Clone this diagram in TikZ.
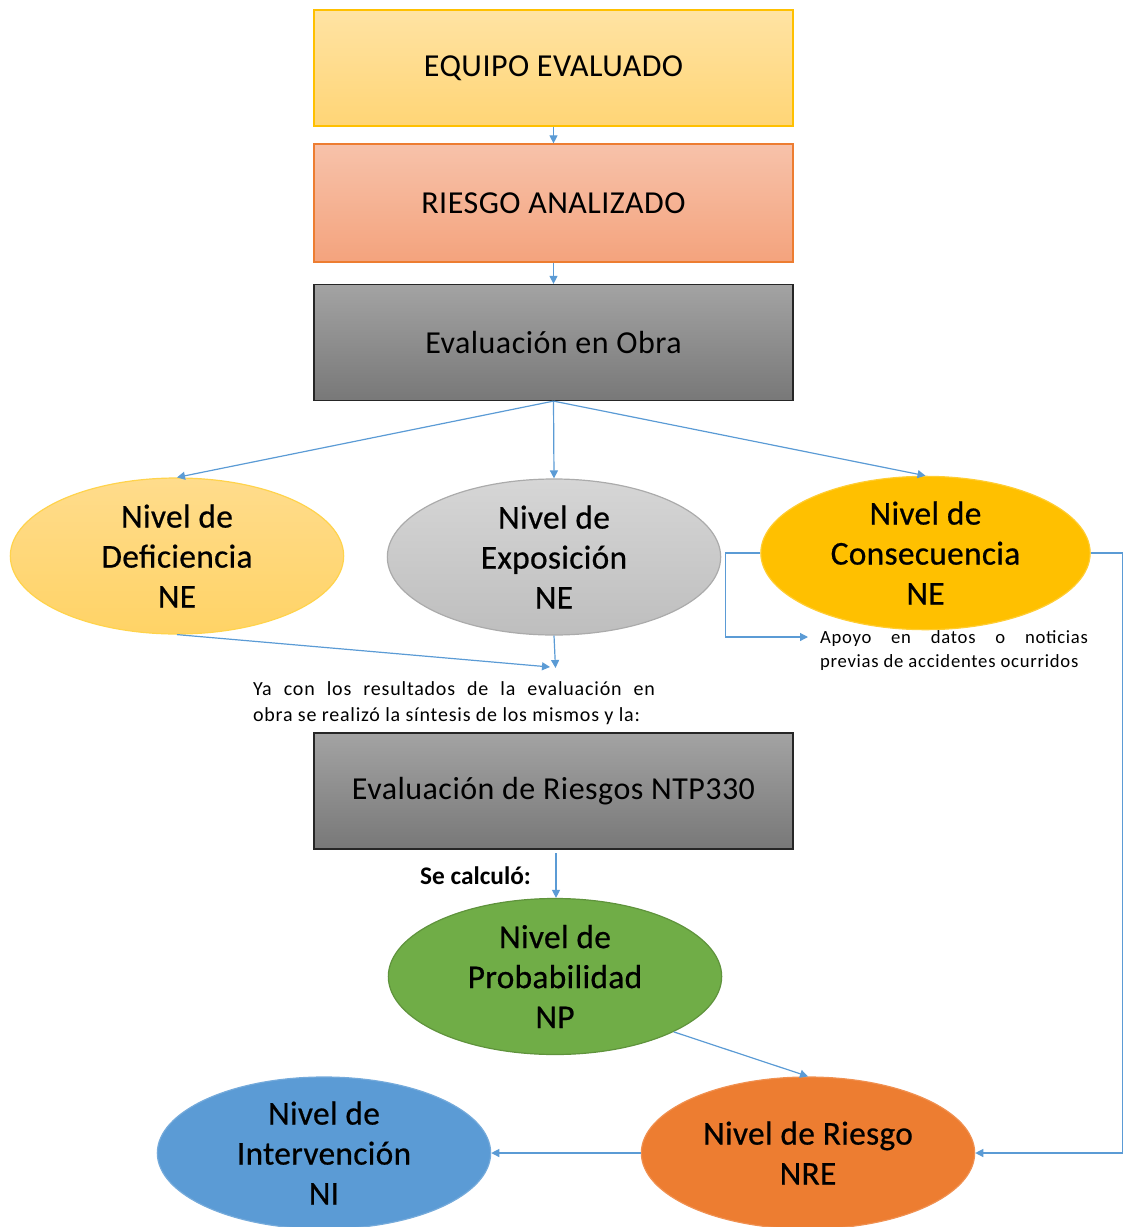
\documentclass[tikz,border=0pt]{standalone}
\usepackage{fontspec}
\setmainfont{Carlito}
\newfontfamily\boxfont[LetterSpace=1.5]{Carlito}
\newfontfamily\ellfont[LetterSpace=1,FakeBold=0.6]{Carlito}
\newfontfamily\notefont[LetterSpace=4]{Carlito}
\usetikzlibrary{arrows.meta,shapes.geometric}
\definecolor{arrowblue}{HTML}{5B9BD5}
\definecolor{y1}{HTML}{FFE3A3}
\definecolor{y2}{HTML}{FFD576}
\definecolor{yb}{HTML}{FFC000}
\definecolor{s1}{HTML}{F7C2AA}
\definecolor{s2}{HTML}{F4A37D}
\definecolor{sb}{HTML}{ED7D31}
\definecolor{g1}{HTML}{A3A3A3}
\definecolor{g2}{HTML}{787878}
\definecolor{e1}{HTML}{D6D6D6}
\definecolor{e2}{HTML}{BEBEBE}
\definecolor{d1}{HTML}{FFDC8C}
\definecolor{d2}{HTML}{FFD366}
\definecolor{conc}{HTML}{FFC000}
\definecolor{probc}{HTML}{70AD47}
\definecolor{nrec}{HTML}{ED7D31}
\definecolor{nic}{HTML}{5B9BD5}
\begin{document}
\begin{tikzpicture}[x=0.75pt,y=-0.75pt,
  bigbox/.style={rectangle, minimum width=359.25pt, minimum height=87pt, inner sep=0pt,
    font=\boxfont\fontsize{24}{29}\selectfont, line width=0.9pt},
  ell/.style={ellipse, minimum width=250pt, minimum height=117pt, inner xsep=0pt, inner ysep=-20pt,
    align=center, font=\ellfont\fontsize{25}{30}\selectfont, line width=0.9pt},
  arr/.style={draw=arrowblue, line width=0.9pt, -{Triangle[length=6pt,width=6pt]}},
  note/.style={inner sep=0pt, align=justify, font=\notefont\fontsize{15}{19.5}\selectfont}
]
\useasboundingbox (0,0) rectangle (1124,1227);

\node[bigbox, draw=yb, top color=y1, bottom color=y2] (b1) at (553.5,68) {EQUIPO EVALUADO};
\node[bigbox, draw=sb, top color=s1, bottom color=s2, minimum height=88.5pt] (b2) at (553.5,203) {RIESGO ANALIZADO};
\node[bigbox, draw=black!85, top color=g1, bottom color=g2] (b3) at (553.5,342.5) {Evaluación en Obra};

\node[ell, draw=yb!70, top color=d1, bottom color=d2] (def) at (177,556) {Nivel de\\Deficiencia\\NE};
\node[ell, draw=e2!90!black, top color=e1, bottom color=e2] (exp) at (554,557) {Nivel de\\Exposición\\NE};
\node[ell, draw=conc!80, fill=conc, minimum width=247pt, minimum height=115pt] (con) at (925.5,553) {Nivel de\\Consecuencia\\NE};

\node[note, text width=301.5pt] (ya) at (454,703)
  {\parfillskip=0pt Ya con los resultados de la evaluación en\linebreak obra se realizó la síntesis de los mismos y la:};
\node[note, text width=201pt, font=\notefont\fontsize{14}{18}\selectfont] (apoyo) at (954,651)
  {\parfillskip=0pt Apoyo en datos o noticias\linebreak previas de accidentes ocurridos};
\coordinate (apoyotip) at (808,637);

\node[bigbox, draw=black!85, top color=g1, bottom color=g2] (b4) at (553.5,791) {Evaluación de Riesgos NTP330};
\node[inner sep=0pt, font=\bfseries\fontsize{19}{23}\selectfont] (calc) at (475.5,876) {Se calculó:};

\node[ell, draw=probc!85!black, fill=probc] (prob) at (555,976.5) {Nivel de\\Probabilidad\\NP};
\node[ell, draw=nrec!85!white, fill=nrec, minimum height=114pt] (nre) at (808,1153) {Nivel de Riesgo\\NRE};
\node[ell, draw=nic!85!white, fill=nic, minimum height=114pt] (ni) at (324,1153) {Nivel de\\Intervención\\NI};

\coordinate (m1) at (550,667);
\coordinate (m2) at (555.5,668);
\coordinate (c4) at (556,853);

\draw[arr] (b1.south) -- (b2.north);
\draw[arr] (b2.south) -- (b3.north);
\draw[arr] (b3.south) -- (def.north);
\draw[arr] (b3.south) -- (exp.north);
\draw[arr] (b3.south) -- (con.north);
\draw[arr] (def.south) -- (m1);
\draw[arr] (exp.south) -- (m2);
\draw[arr] (con.west) -- ++(-35,0) |- (apoyotip);
\draw[arr] (con.east) -- (1122.5,553) |- (nre.east);
\draw[arr] (c4) -- (prob.north -| c4);
\draw[arr] (prob.-25.6) -- (nre.north);
\draw[arr] (nre.west) -- (ni.east);
\end{tikzpicture}
\end{document}
